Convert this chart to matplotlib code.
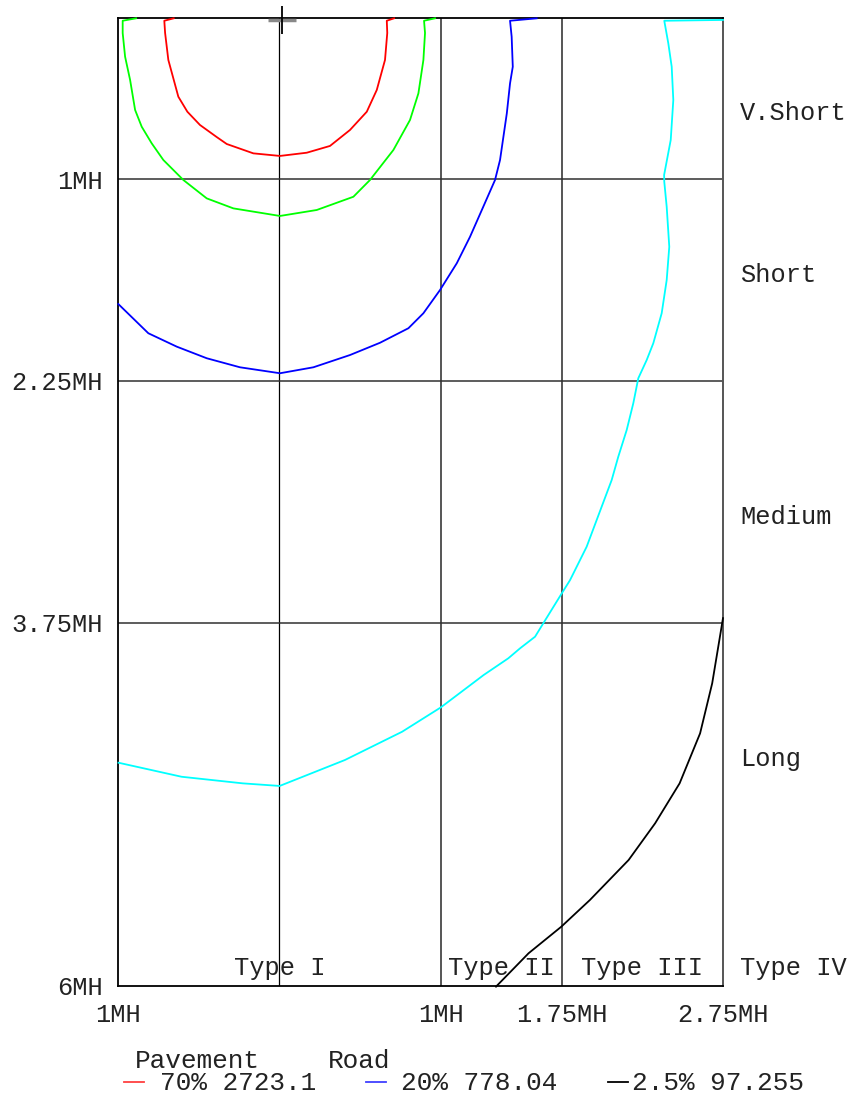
import numpy as np
import matplotlib
matplotlib.use('Agg')
import matplotlib.pyplot as plt

plt.rcParams['font.family'] = ['Liberation Mono', 'DejaVu Sans Mono']

# Isolux contours, coordinates in mounting heights (MH)
# x: transverse (negative = house side), y: longitudinal distance
red_x = [-0.655, -0.713, -0.708, -0.688, -0.626, -0.570, -0.492, -0.388, -0.326, -0.161, 0.004,
         0.170, 0.314, 0.438, 0.542, 0.604, 0.655, 0.669, 0.666, 0.711]
red_y = [0.002, 0.017, 0.093, 0.260, 0.488, 0.581, 0.663, 0.738, 0.781, 0.839, 0.855,
         0.835, 0.793, 0.694, 0.581, 0.446, 0.260, 0.093, 0.017, 0.002]

green_x = [-0.888, -0.971, -0.971, -0.956, -0.925, -0.894, -0.853, -0.791, -0.719, -0.595, -0.450,
           -0.285, 0.004, 0.232, 0.459, 0.562, 0.707, 0.810, 0.862, 0.893, 0.903, 0.897, 0.965]
green_y = [0.002, 0.017, 0.093, 0.240, 0.384, 0.570, 0.674, 0.777, 0.880, 1.004, 1.118,
           1.180, 1.227, 1.190, 1.108, 1.004, 0.818, 0.632, 0.467, 0.260, 0.093, 0.017, 0.002]

blue_x = [-0.998, -0.812, -0.636, -0.450, -0.244, 0.004, 0.211, 0.438, 0.624, 0.800, 0.893,
          0.996, 1.100, 1.182, 1.264, 1.337, 1.368, 1.410, 1.430, 1.447, 1.440, 1.430, 1.595]
blue_y = [1.773, 1.954, 2.037, 2.109, 2.165, 2.202, 2.165, 2.089, 2.013, 1.923, 1.830,
          1.686, 1.520, 1.356, 1.170, 1.004, 0.880, 0.591, 0.405, 0.302, 0.116, 0.017, 0.002]

cyan_x = [-0.997, -0.606, -0.226, 0.002, 0.407, 0.761, 1.001, 1.267, 1.419, 1.492, 1.585,
          1.636, 1.744, 1.802, 1.905, 1.998, 2.060, 2.101, 2.153, 2.194, 2.225, 2.277,
          2.318, 2.370, 2.401, 2.417, 2.401, 2.386, 2.385, 2.426, 2.442, 2.432, 2.411,
          2.386, 2.75]
cyan_y = [4.616, 4.703, 4.744, 4.760, 4.599, 4.424, 4.273, 4.072, 3.969, 3.907, 3.835,
          3.752, 3.577, 3.484, 3.277, 3.029, 2.864, 2.719, 2.554, 2.388, 2.233, 2.120,
          2.016, 1.830, 1.624, 1.418, 1.170, 1.015, 0.973, 0.756, 0.508, 0.302, 0.157,
          0.017, 0.012]

black_x = [1.343, 1.545, 1.747, 1.925, 2.165, 2.329, 2.481, 2.608, 2.683, 2.75]
black_y = [6.004, 5.797, 5.633, 5.467, 5.219, 4.992, 4.744, 4.434, 4.124, 3.72]

contours = [
    (red_x, red_y, '#ff0000'),
    (green_x, green_y, '#00ff00'),
    (blue_x, blue_y, '#0000ff'),
    (cyan_x, cyan_y, '#00ffff'),
    (black_x, black_y, '#000000'),
]

xticks = [-1, 1, 1.75, 2.75]
xticklabels = ['1MH', '1MH', '1.75MH', '2.75MH']
yticks = [1, 2.25, 3.75, 6]
yticklabels = ['1MH', '2.25MH', '3.75MH', '6MH']

type_labels = ['Type I', 'Type II', 'Type III']
type_centers = [0.0, 1.375, 2.25]
dist_labels = ['V.Short', 'Short', 'Medium', 'Long']
dist_pos = [0.59, 1.59, 3.09, 4.59]

legend_rows = [('70% 2723.1', '#ff4040'), ('20% 778.04', '#4040ff'), ('2.5% 97.255', '#000000')]

W, H = 851, 1094
FS = 18.3


def fpos(x, y):
    # pixel position -> figure fraction
    return x / W, 1 - y / H


def main():
    fig = plt.figure(figsize=(W / 100, H / 100), dpi=100)
    ax = fig.add_axes([118 / W, (H - 986) / H, 605 / W, 968 / H])
    ax.set_xlim(-1, 2.75)
    ax.set_ylim(6, 0)

    # grid
    ax.axvline(0, color='#000000', lw=0.9, zorder=1)
    for xv in [1, 1.75]:
        ax.axvline(xv, color='#555555', lw=1.4, zorder=1)
    for yv in [1, 2.25, 3.75]:
        ax.axhline(yv, color='#303030', lw=1.1, zorder=1)

    for xs, ys, c in contours:
        ax.plot(xs, ys, color=c, lw=1.3, zorder=3, clip_on=False)

    # luminaire position
    ax.plot([0.017], [0.015], marker='_', ms=20, mew=2.5, color='#888888', clip_on=False, zorder=4)
    ax.plot([0.017], [0.015], marker='|', ms=20, mew=1.3, color='#000000', clip_on=False, zorder=5)

    for sp in ['left', 'top', 'bottom']:
        ax.spines[sp].set_color('#000000')
        ax.spines[sp].set_linewidth(1.3)
    ax.spines['right'].set_color('#555555')
    ax.spines['right'].set_linewidth(1.4)

    ax.set_xticks(xticks)
    ax.set_xticklabels(xticklabels, fontsize=FS, color='#222222')
    ax.set_yticks(yticks)
    ax.set_yticklabels(yticklabels, fontsize=FS, color='#222222')
    ax.tick_params(axis='x', length=0, pad=12.5)
    ax.tick_params(axis='y', length=0, pad=11)

    for lab, xc in zip(type_labels, type_centers):
        ax.text(xc, 5.889, lab, ha='center', va='center', fontsize=FS, color='#222222', zorder=6)
    ax.text(2.75 + 17 / 161.33, 5.889, 'Type IV', ha='left', va='center', fontsize=FS,
            color='#222222', clip_on=False)
    for lab, yv in zip(dist_labels, dist_pos):
        ax.text(2.75 + 17 / 161.33, yv, lab, ha='left', va='center', fontsize=FS,
                color='#222222', clip_on=False)

    # legend at the bottom
    lfs = 18.8
    fig.text(*fpos(135, 1061), 'Pavement', ha='left', va='center', fontsize=lfs, color='#222222')
    fig.text(*fpos(328, 1061), 'Road', ha='left', va='center', fontsize=lfs, color='#222222')
    dash_x = [124, 366, 608]
    text_x = [160, 401, 632]
    for (txt, c), dx, tx in zip(legend_rows, dash_x, text_x):
        x0, y0 = fpos(dx, 1082)
        x1, _ = fpos(dx + 20, 1082)
        fig.add_artist(plt.Line2D([x0, x1], [y0, y0], color=c, lw=1.3, transform=fig.transFigure))
        fig.text(*fpos(tx, 1083), txt, ha='left', va='center', fontsize=lfs, color='#222222')

    fig.savefig('out.png', dpi=100, facecolor='w')


if __name__ == '__main__':
    main()
